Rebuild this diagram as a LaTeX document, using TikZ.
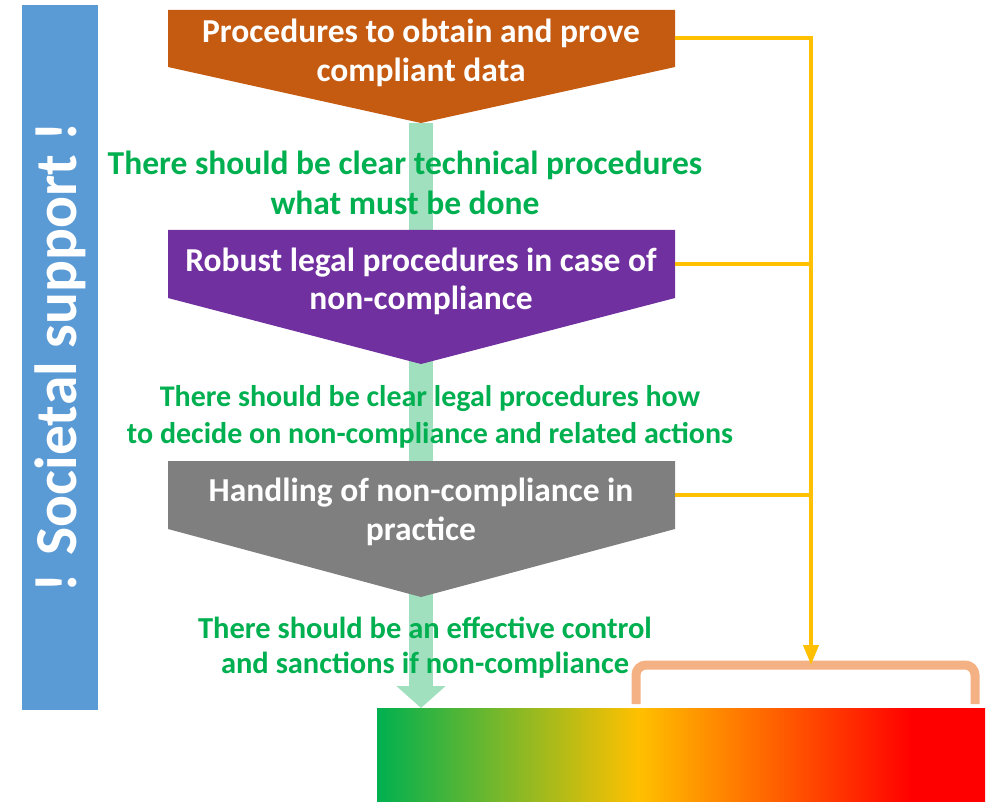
\documentclass[tikz,border=0pt]{standalone}
\usepackage{fontspec}
\setmainfont{Carlito}
\usetikzlibrary{arrows.meta,calc}
\definecolor{cOrange}{HTML}{C55A11}
\definecolor{cPurple}{HTML}{7030A0}
\definecolor{cGrey}{HTML}{7F7F7F}
\definecolor{cBlue}{HTML}{5B9BD5}
\definecolor{cGreen}{HTML}{00B050}
\definecolor{cYellow}{HTML}{FFC000}
\definecolor{cRed}{HTML}{FF0000}
\definecolor{cBrace}{HTML}{F4B183}
\definecolor{cStem}{HTML}{A0E0BE}
\pgfdeclarehorizontalshading{traffic}{100bp}{color(0bp)=(cGreen); color(25bp)=(cGreen); color(46.5bp)=(cYellow); color(69bp)=(cRed); color(100bp)=(cRed)}
\begin{document}
\begin{tikzpicture}[x=1pt,y=-1pt,
  stagebox/.style={minimum width=507pt, inner sep=0pt, outer sep=0pt, anchor=north west},
  stagetext/.style={text=white, font=\bfseries\fontsize{33.5}{38.5}\selectfont, align=center, inner sep=0pt},
  note/.style={text=cGreen, align=center, inner sep=0pt},
  bus/.style={cYellow, line width=4pt},
]
\useasboundingbox (0,0) rectangle (992,802);
% societal support bar
\node[fill=cBlue, rotate=90, minimum width=705pt, minimum height=76pt, inner sep=0pt,
  text=white, font=\bfseries\fontsize{59.5}{60}\selectfont] (support) at (60,357.5) {! Societal support !};
% stage boxes (anchors only)
\node[stagebox, minimum height=57pt] (proc) at (168,10) {};
\node[stagebox, minimum height=68pt] (legal) at (168,230) {};
\node[stagebox, minimum height=68pt] (handle) at (168,461) {};
\coordinate (procTip) at (421,123);
\coordinate (legalTip) at (421,364);
\coordinate (handleTip) at (421,597);
% gradient bar
\node[shade, shading=traffic, minimum width=608pt, minimum height=94pt, inner sep=0pt, anchor=north west] (bar) at (377,708) {};
% bracket
\coordinate (brL) at (636,704);
\coordinate (brR) at (975,704);
\coordinate (brTop) at (811,665);
\draw[cBrace, line width=9pt, rounded corners=10pt] (brL) -- (brL |- brTop) -- (brR |- brTop) -- (brR);
% green stem
\draw[cStem, line width=24pt, -{Triangle[width=48pt,length=22pt]}] (procTip) -- (procTip |- bar.north);
% pentagons
\fill[cOrange] (proc.north west) -- (proc.north east) -- (proc.south east) -- (procTip) -- (proc.south west) -- cycle;
\fill[cPurple] (legal.north west) -- (legal.north east) -- (legal.south east) -- (legalTip) -- (legal.south west) -- cycle;
\fill[cGrey] (handle.north west) -- (handle.north east) -- (handle.south east) -- (handleTip) -- (handle.south west) -- cycle;
\node[stagetext] (procText) at (421,53) {Procedures to obtain and prove\\compliant data};
\node[stagetext] (legalText) at (421,281.5) {Robust legal procedures in case of\\non-compliance};
\node[stagetext] (handleText) at (421,512) {Handling of non-compliance in\\practice};
% green notes
\node[note, font=\bfseries\fontsize{33.5}{40}\selectfont] (n1) at (405,183) {There should be clear technical procedures\\what must be done};
\node[note, font=\bfseries\fontsize{30}{37}\selectfont] (n2) at (430,416.5) {There should be clear legal procedures how\\to decide on non-compliance and related actions};
\node[note, font=\bfseries\fontsize{30.5}{35}\selectfont] (n3) at (425,647.5) {There should be an effective control\\and sanctions if non-compliance};
% yellow connectors
\draw[bus, -{Triangle[width=15pt,length=20pt]}] (proc.east) -| (brTop);
\draw[bus] (legal.east) -- (legal.east -| brTop);
\draw[bus] (handle.east) -- (handle.east -| brTop);
\end{tikzpicture}
\end{document}
